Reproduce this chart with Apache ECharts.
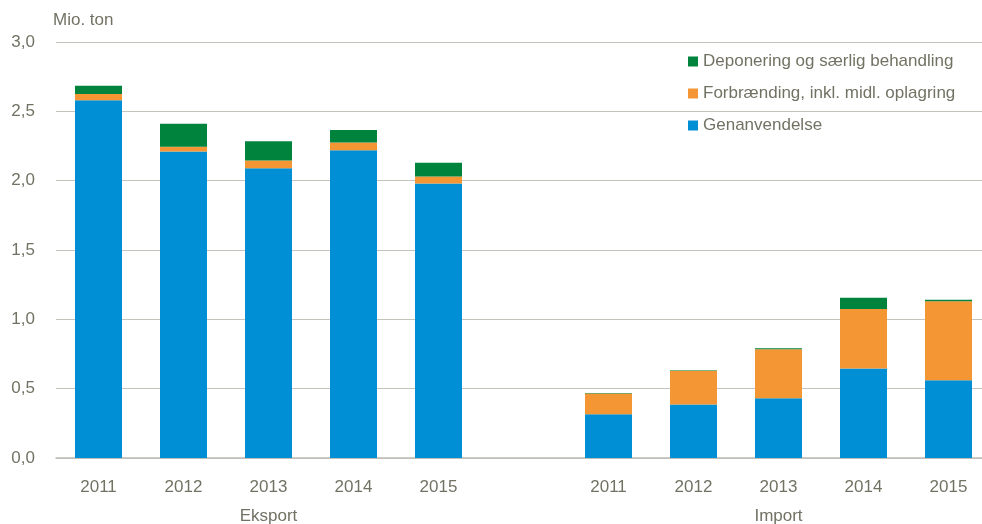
<!doctype html>
<html>
<head>
  <meta charset="UTF-8" />
  <title>Eksport og import af affald</title>
  <script src="https://cdn.jsdelivr.net/npm/echarts@6/dist/echarts.min.js"></script>
  <style>
    html, body { margin: 0; padding: 0; background: #ffffff; }
    #chart { width: 982px; height: 524px; }
  </style>
</head>
<body>
  <div id="chart"></div>
  <script>
    // kategorier: 5 år eksport, et tomt felt, 5 år import
    const years = ["2011", "2012", "2013", "2014", "2015", "", "2011", "2012", "2013", "2014", "2015"];
    const groups = ["", "", "Eksport", "", "", "", "", "", "Import", "", ""];
    const yTicks = ["0,0", "0,5", "1,0", "1,5", "2,0", "2,5", "3,0"];

    const genanvendelse = [2.58, 2.21, 2.09, 2.22, 1.98, null, 0.315, 0.385, 0.43, 0.645, 0.56];
    const forbraending = [0.045, 0.035, 0.055, 0.055, 0.05, null, 0.15, 0.245, 0.355, 0.43, 0.57];
    const deponering = [0.06, 0.165, 0.14, 0.09, 0.10, null, 0.003, 0.003, 0.007, 0.08, 0.012];

    const textColor = "#727264";
    const font = "'Liberation Sans', Arial, sans-serif";

    var chart = echarts.init(document.getElementById("chart"));

    const barSeries = (name, data, color) => ({
      name: name,
      type: "bar",
      stack: "total",
      data: data,
      barWidth: 47,
      itemStyle: { color: color },
    });

    chart.setOption({
      animation: false,
      textStyle: { fontFamily: font },
      grid: { left: 56, width: 935, top: 42, height: 416, outerBoundsMode: "none" },
      legend: {
        orient: "vertical",
        left: 683,
        top: 48,
        itemWidth: 10,
        itemHeight: 10,
        itemGap: 15,
        icon: "rect",
        data: ["Deponering og særlig behandling", "Forbrænding, inkl. midl. oplagring", "Genanvendelse"],
        textStyle: { color: textColor, fontSize: 17, fontFamily: font },
      },
      xAxis: [
        {
          type: "category",
          data: years,
          axisLine: { lineStyle: { color: "#bdbdb5", width: 1.5 } },
          axisTick: { show: false },
          axisLabel: { color: textColor, fontSize: 17, margin: 21 },
        },
        {
          type: "category",
          data: groups,
          position: "bottom",
          offset: 29,
          axisLine: { show: false },
          axisTick: { show: false },
          axisLabel: { color: textColor, fontSize: 17, margin: 21 },
        },
      ],
      yAxis: {
        type: "value",
        min: 0,
        max: 3,
        interval: 0.5,
        name: "Mio. ton",
        nameGap: 13,
        nameTextStyle: { color: textColor, fontSize: 17, align: "left", padding: [0, 0, 0, -3] },
        axisLine: { show: false },
        axisTick: { show: false },
        splitLine: { lineStyle: { color: "#c4c4bc", width: 1.2 } },
        axisLabel: {
          color: textColor,
          fontSize: 17,
          margin: 21,
          formatter: (v) => yTicks[Math.round(v / 0.5)],
        },
      },
      series: [
        barSeries("Genanvendelse", genanvendelse, "#008fd5"),
        barSeries("Forbrænding, inkl. midl. oplagring", forbraending, "#f39633"),
        barSeries("Deponering og særlig behandling", deponering, "#00843d"),
      ],
    });
  </script>
</body>
</html>
